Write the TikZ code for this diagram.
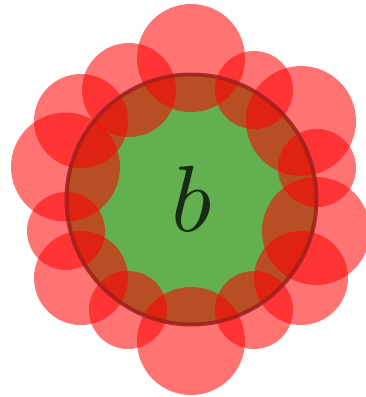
\documentclass[tikz,border=0pt]{standalone}
\begin{document}
\begin{tikzpicture}[x=1pt,y=-1pt,
  petal/.style={fill=red,fill opacity=0.55,draw=none},
  core/.style={circle,fill={rgb,255:red,98;green,176;blue,80},minimum size=252pt,inner sep=0pt}]
\useasboundingbox (0,0) rectangle (365,397);
\node[core] (c) at (191.5,199.5) {};
\foreach \x/\y/\r in {191/58/54, 129/90/47, 254/90/39, 81/121/47, 301/121/55,
  65.5/167/54.5, 317/168/39, 66/231/39, 316/231/54, 81/278/47, 301/278/47,
  128/310/39, 254/310/39, 191/341/54}
  \fill[petal] (\x,\y) circle[radius=\r];
\draw[draw={rgb,255:red,160;green,30;blue,30},line width=4pt,opacity=0.8] (c.center) circle[radius=125];
\node[text opacity=0.75,inner sep=0pt,scale=9.4] (lbl) at (192,199) {$b$};
\end{tikzpicture}
\end{document}
